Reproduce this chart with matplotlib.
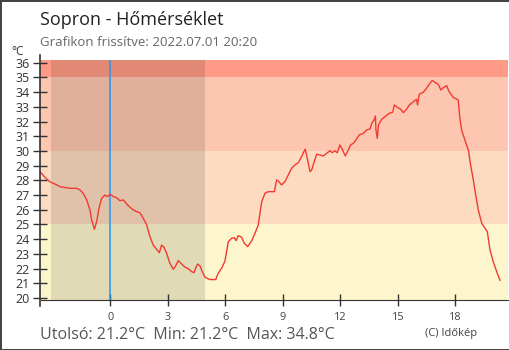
import matplotlib
matplotlib.use('Agg')
import matplotlib.pyplot as plt

plt.rcParams['font.family'] = ['Open Sans', 'DejaVu Sans']

# órák (0 = éjfél), hőmérséklet °C
hours = [-3.67, -3.4, -3.15, -2.8, -2.62, -2.27, -2.1, -1.75, -1.58, -1.41, -1.23, -1.06,
         -0.97, -0.83, -0.71, -0.59, -0.45, -0.28, -0.16, 0.0, 0.16, 0.33, 0.5, 0.68,
         0.85, 1.03, 1.2, 1.38, 1.55, 1.72, 1.9, 2.07, 2.24, 2.42, 2.56, 2.68, 2.8,
         2.94, 3.11, 3.29, 3.41, 3.55, 3.72, 3.9, 4.07, 4.25, 4.37, 4.45, 4.56, 4.68,
         4.8, 4.94, 5.2, 5.5, 5.63, 5.81, 5.98, 6.07, 6.16, 6.33, 6.47, 6.56, 6.68,
         6.85, 6.99, 7.17, 7.38, 7.55, 7.72, 7.81, 7.9, 8.07, 8.24, 8.56, 8.68, 8.76,
         8.94, 9.11, 9.29, 9.46, 9.64, 9.81, 9.98, 10.1, 10.17, 10.24, 10.33, 10.42,
         10.51, 10.64, 10.77, 10.94, 11.11, 11.29, 11.46, 11.58, 11.72, 11.84, 11.98,
         12.12, 12.26, 12.42, 12.54, 12.68, 12.82, 12.99, 13.2, 13.38, 13.55, 13.64,
         13.76, 13.83, 13.86, 13.93, 13.99, 14.16, 14.33, 14.55, 14.73, 14.82, 14.97,
         15.15, 15.29, 15.46, 15.6, 15.81, 15.98, 16.03, 16.12, 16.33, 16.5, 16.68,
         16.8, 16.94, 17.11, 17.25, 17.37, 17.55, 17.68, 17.89, 18.15, 18.24, 18.33,
         18.5, 18.68, 18.8, 18.94, 19.08, 19.2, 19.38, 19.55, 19.67, 19.81, 19.98,
         20.16, 20.33]
temps = [28.6, 28.2, 27.9, 27.7, 27.57, 27.5, 27.46, 27.46, 27.35, 27.12, 26.67, 25.99,
         25.3, 24.67, 25.19, 26.1, 26.78, 27.0, 26.9, 27.05, 26.9, 26.82, 26.62, 26.67,
         26.4, 26.17, 25.99, 25.87, 25.8, 25.42, 24.97, 24.17, 23.6, 23.31, 23.08, 23.6,
         23.45, 23.04, 22.36, 21.95, 22.18, 22.54, 22.31, 22.09, 21.99, 21.79, 21.72,
         22.02, 22.31, 22.18, 21.79, 21.41, 21.25, 21.25, 21.68, 22.02, 22.5, 23.15,
         23.83, 24.06, 24.1, 23.9, 24.24, 24.13, 23.72, 23.49, 23.9, 24.4, 24.97, 25.76,
         26.55, 27.12, 27.23, 27.23, 28.03, 27.96, 27.69, 27.91, 28.37, 28.82, 29.05,
         29.2, 29.61, 29.95, 30.12, 29.73, 29.16, 28.59, 28.71, 29.27, 29.78, 29.73,
         29.66, 29.84, 30.02, 29.88, 30.02, 29.88, 30.41, 30.07, 29.66, 30.07, 30.41,
         30.52, 30.75, 31.09, 31.2, 31.43, 31.5, 31.88, 32.1, 32.38, 31.43, 30.86,
         31.77, 32.16, 32.33, 32.56, 32.63, 33.13, 32.97, 32.84, 32.61, 32.84, 33.13,
         33.35, 33.52, 33.13, 33.86, 33.99, 34.27, 34.61, 34.8, 34.67, 34.53, 34.15,
         34.3, 34.44, 34.03, 33.65, 33.47, 32.22, 31.43, 30.75, 30.07, 29.05, 28.03,
         26.89, 25.99, 25.08, 24.74, 24.51, 23.27, 22.47, 21.79, 21.2]

band_edges = [0, 25, 30, 35, 40]
band_colors = ['#fdf6cd', '#fcdbc0', '#fdc6b0', '#fe9a85']
night = (-3.08, 4.95)
xticks = [0, 3, 6, 9, 12, 15, 18]
yticks = list(range(20, 37))

fig = plt.figure(figsize=(5.1, 3.5), dpi=100, edgecolor='#444444', linewidth=2)
ax = fig.add_axes([40.5 / 510, 50 / 350, 467.5 / 510, 240 / 350])

for i in range(len(band_colors)):
    ax.axhspan(band_edges[i], band_edges[i + 1], color=band_colors[i], lw=0, zorder=0)
ax.axvspan(night[0], night[1], color='black', alpha=0.11, lw=0, zorder=1)
ax.axvline(0, color='#2196f3', lw=1.1, zorder=2)
ax.plot(hours, temps, color='#f23a32', lw=1.0, zorder=3)

ax.set_xlim(-3.64, 20.75)
ax.set_ylim(19.86, 36.19)
ax.set_xticks(xticks)
ax.set_yticks(yticks)
ax.tick_params(axis='y', direction='inout', length=10, width=1, color='#333333',
               labelsize=9, labelcolor='#333333', pad=3)
ax.tick_params(axis='x', direction='inout', length=9, width=1, color='#333333',
               labelsize=7.8, labelcolor='#444444', pad=4)
for s in ['top', 'right', 'left']:
    ax.spines[s].set_visible(False)
ax.spines['bottom'].set_color('#333333')
ax.plot([0, 0], [-0.027, 1.02], transform=ax.transAxes, color='#333333', lw=1.2,
        clip_on=False, zorder=4)

fig.text(40 / 510, 1 - 25 / 350, 'Sopron - Hőmérséklet', fontsize=13, color='#222222')
fig.text(40 / 510, 1 - 45.5 / 350, 'Grafikon frissítve: 2022.07.01 20:20', fontsize=9.5,
         color='#666666')
fig.text(11 / 510, 1 - 55 / 350, '°C', fontsize=8.5, color='#333333')
fig.text(40 / 510, 1 - 339 / 350, 'Utolsó: 21.2°C  Min: 21.2°C  Max: 34.8°C',
         fontsize=11.5, color='#555555')
fig.text(425 / 510, 1 - 336 / 350, '(C) Időkép', fontsize=8, color='#444444')

fig.savefig('out.png', dpi=100)
